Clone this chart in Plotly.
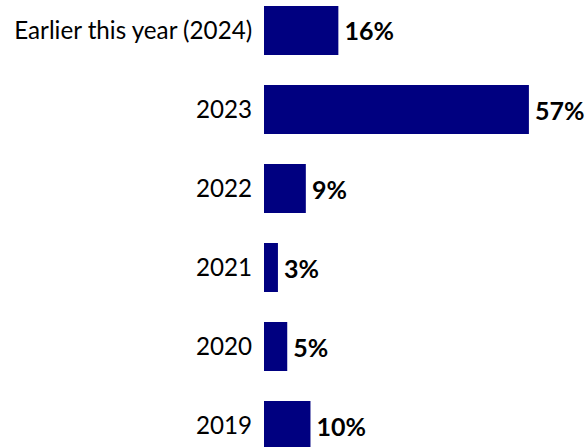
import plotly.graph_objects as go

categories = ["Earlier this year (2024)", "2023", "2022", "2021", "2020", "2019"]
values = [16, 57, 9, 3, 5, 10]
labels = [f"\u2009{v}%" for v in values]

fig = go.Figure(go.Bar(
    x=values, y=categories, orientation="h",
    marker=dict(color="#000080", line=dict(width=0)),
    text=labels, textposition="outside", cliponaxis=False,
    textfont=dict(family="Lato", size=25, color="black", weight="bold"),
))
fig.update_layout(
    width=587, height=447,
    margin=dict(l=264, r=0, t=0, b=0),
    plot_bgcolor="white", paper_bgcolor="white",
    bargap=0.38, showlegend=False,
    font=dict(family="Lato", size=24, color="black"),
)
fig.update_xaxes(range=[0, 69.5], visible=False)
fig.update_yaxes(type="category", range=[5.272, -0.386], showgrid=False,
                 showline=False, ticks="outside", ticklen=6, tickcolor="white",
                 tickfont=dict(family="Lato", size=24.2, color="black"))
fig.write_html("out.html")
